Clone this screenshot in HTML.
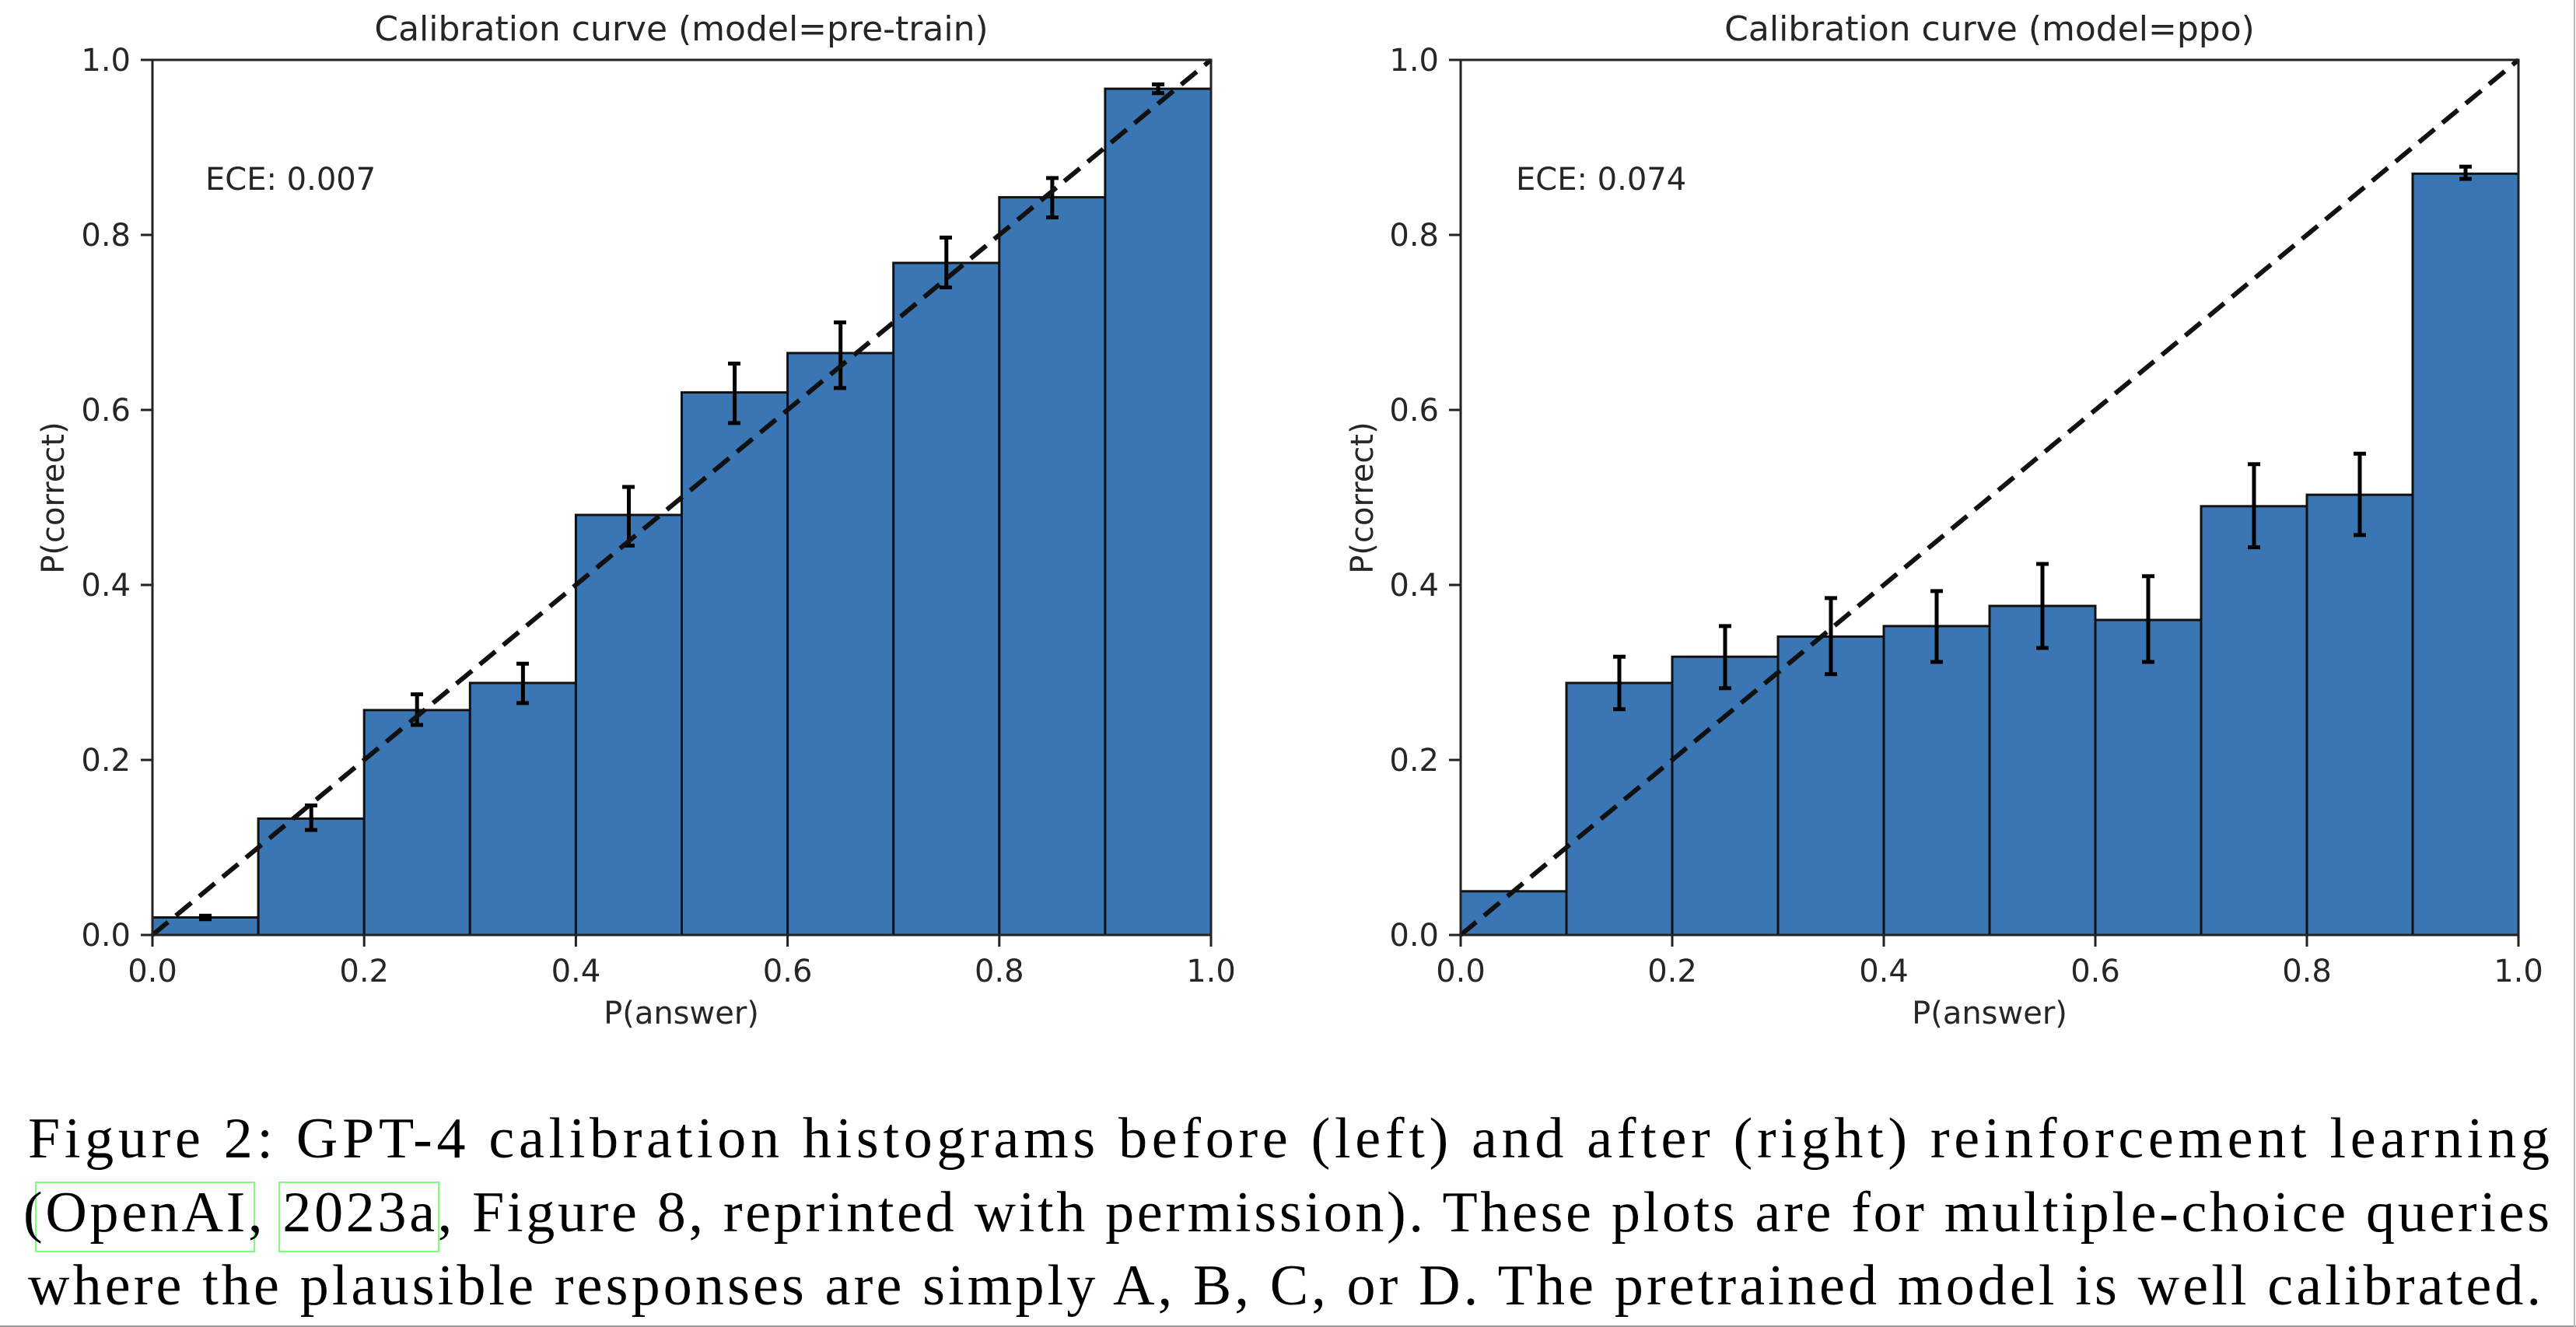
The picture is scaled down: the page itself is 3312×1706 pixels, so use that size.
<!DOCTYPE html>
<html><head><meta charset="utf-8"><style>
html,body{margin:0;padding:0;background:#fff;}
svg{display:block;}
.t{font-family:"DejaVu Sans","Liberation Sans",sans-serif;fill:#262626;}
.c{font-family:"Liberation Serif",serif;fill:#000;font-size:74px;}
</style></head><body>
<svg width="3312" height="1706" viewBox="0 0 3312 1706" xmlns="http://www.w3.org/2000/svg">
<rect width="3312" height="1706" fill="#fff"/>
<!-- LEFT PLOT -->
<g fill="#3a75b4" stroke="#111" stroke-width="3">
<rect x="196" y="1179.5" width="136.1" height="22.5"/>
<rect x="332.1" y="1052.4" width="136.1" height="149.6"/>
<rect x="468.2" y="912.9" width="136.1" height="289.1"/>
<rect x="604.3" y="878" width="136.1" height="324"/>
<rect x="740.4" y="662" width="136.1" height="540"/>
<rect x="876.5" y="504.5" width="136.1" height="697.5"/>
<rect x="1012.6" y="453.9" width="136.1" height="748.1"/>
<rect x="1148.7" y="338" width="136.1" height="864"/>
<rect x="1284.8" y="253.6" width="136.1" height="948.4"/>
<rect x="1420.9" y="114.1" width="136.1" height="1087.9"/>
</g>
<g stroke="#000" stroke-width="5" fill="none">
<path d="M264 1181.8V1177.3M256 1181.8H272M256 1177.3H272"/>
<path d="M400.2 1067V1035.5M392 1067H408M392 1035.5H408"/>
<path d="M536.2 932V892.6M528 932H544M528 892.6H544"/>
<path d="M672.4 903.9V853.3M664 903.9H680M664 853.3H680"/>
<path d="M808.5 701.4V626M800 701.4H816M800 626H816"/>
<path d="M944.6 543.9V467.4M936 543.9H952M936 467.4H952"/>
<path d="M1080.7 498.9V414.5M1072 498.9H1088M1072 414.5H1088"/>
<path d="M1216.8 369.5V305.4M1208 369.5H1224M1208 305.4H1224"/>
<path d="M1352.9 279.5V228.9M1345 279.5H1361M1345 228.9H1361"/>
<path d="M1489 119.8V108.5M1481 119.8H1497M1481 108.5H1497"/>
</g>
<line x1="196" y1="1202" x2="1557" y2="77" stroke="#111" stroke-width="6" stroke-dasharray="26,13"/>
<rect x="196" y="77" width="1361" height="1125" fill="none" stroke="#222" stroke-width="3"/>
<g stroke="#222" stroke-width="3">
<path d="M181 1202H196M181 977H196M181 752H196M181 527H196M181 302H196M181 77H196"/>
<path d="M196 1202V1217M468.2 1202V1217M740.4 1202V1217M1012.6 1202V1217M1284.8 1202V1217M1557 1202V1217"/>
</g>
<g class="t" font-size="40" text-anchor="end">
<text x="168" y="1216">0.0</text><text x="168" y="991">0.2</text><text x="168" y="766">0.4</text>
<text x="168" y="541">0.6</text><text x="168" y="316">0.8</text><text x="168" y="91">1.0</text>
</g>
<g class="t" font-size="40" text-anchor="middle">
<text x="196" y="1262">0.0</text><text x="468.2" y="1262">0.2</text><text x="740.4" y="1262">0.4</text>
<text x="1012.6" y="1262">0.6</text><text x="1284.8" y="1262">0.8</text><text x="1557" y="1262">1.0</text>
<text x="876" y="1316">P(answer)</text>
<text x="876" y="52" font-size="44">Calibration curve (model=pre-train)</text>
<text transform="translate(82,640) rotate(-90)">P(correct)</text>
</g>
<text class="t" x="264" y="244" font-size="40">ECE: 0.007</text>

<!-- RIGHT PLOT -->
<g fill="#3a75b4" stroke="#111" stroke-width="3">
<rect x="1878" y="1145.8" width="136" height="56.2"/>
<rect x="2014" y="878" width="136" height="324"/>
<rect x="2150" y="844.3" width="136" height="357.7"/>
<rect x="2286" y="818.4" width="136" height="383.6"/>
<rect x="2422" y="804.9" width="136" height="397.1"/>
<rect x="2558" y="779" width="136" height="423"/>
<rect x="2694" y="797" width="136" height="405"/>
<rect x="2830" y="650.8" width="136" height="551.2"/>
<rect x="2966" y="636.1" width="136" height="565.9"/>
<rect x="3102" y="223.3" width="136" height="978.7"/>
</g>
<g stroke="#000" stroke-width="5" fill="none">
<path d="M2082 911.8V844.3M2074 911.8H2090M2074 844.3H2090"/>
<path d="M2218 884.8V804.9M2210 884.8H2226M2210 804.9H2226"/>
<path d="M2354 866.8V768.9M2346 866.8H2362M2346 768.9H2362"/>
<path d="M2490 851V759.9M2482 851H2498M2482 759.9H2498"/>
<path d="M2626 833V725M2618 833H2634M2618 725H2634"/>
<path d="M2762 851V740.8M2754 851H2770M2754 740.8H2770"/>
<path d="M2898 703.6V596.8M2890 703.6H2906M2890 596.8H2906"/>
<path d="M3034 687.9V583.3M3026 687.9H3042M3026 583.3H3042"/>
<path d="M3170 230V214.3M3162 230H3178M3162 214.3H3178"/>
</g>
<line x1="1878" y1="1202" x2="3238" y2="77" stroke="#111" stroke-width="6" stroke-dasharray="26,13"/>
<rect x="1878" y="77" width="1360" height="1125" fill="none" stroke="#222" stroke-width="3"/>
<g stroke="#222" stroke-width="3">
<path d="M1863 1202H1878M1863 977H1878M1863 752H1878M1863 527H1878M1863 302H1878M1863 77H1878"/>
<path d="M1878 1202V1217M2150 1202V1217M2422 1202V1217M2694 1202V1217M2966 1202V1217M3238 1202V1217"/>
</g>
<g class="t" font-size="40" text-anchor="end">
<text x="1850" y="1216">0.0</text><text x="1850" y="991">0.2</text><text x="1850" y="766">0.4</text>
<text x="1850" y="541">0.6</text><text x="1850" y="316">0.8</text><text x="1850" y="91">1.0</text>
</g>
<g class="t" font-size="40" text-anchor="middle">
<text x="1878" y="1262">0.0</text><text x="2150" y="1262">0.2</text><text x="2422" y="1262">0.4</text>
<text x="2694" y="1262">0.6</text><text x="2966" y="1262">0.8</text><text x="3238" y="1262">1.0</text>
<text x="2558" y="1316">P(answer)</text>
<text x="2558" y="52" font-size="44">Calibration curve (model=ppo)</text>
<text transform="translate(1765,640) rotate(-90)">P(correct)</text>
</g>
<text class="t" x="1949" y="244" font-size="40">ECE: 0.074</text>

<!-- CAPTION -->
<rect x="46" y="1520" width="281" height="89" fill="none" stroke="#7dff7d" stroke-width="2"/>
<rect x="359" y="1520" width="205" height="89" fill="none" stroke="#7dff7d" stroke-width="2"/>
<text class="c" x="36" y="1488" textLength="3242" lengthAdjust="spacing">Figure 2:  GPT-4 calibration histograms before (left) and after (right) reinforcement learning</text>
<text class="c" x="30" y="1583" textLength="3248" lengthAdjust="spacing">(OpenAI, 2023a, Figure 8, reprinted with permission). These plots are for multiple-choice queries</text>
<text class="c" x="36" y="1677" textLength="3231" lengthAdjust="spacing">where the plausible responses are simply A, B, C, or D. The pretrained model is well calibrated.</text>
<line x1="0" y1="1705" x2="3312" y2="1705" stroke="#999" stroke-width="2"/>
<line x1="3310" y1="0" x2="3310" y2="1706" stroke="#bbb" stroke-width="2"/>
</svg>
</body></html>
